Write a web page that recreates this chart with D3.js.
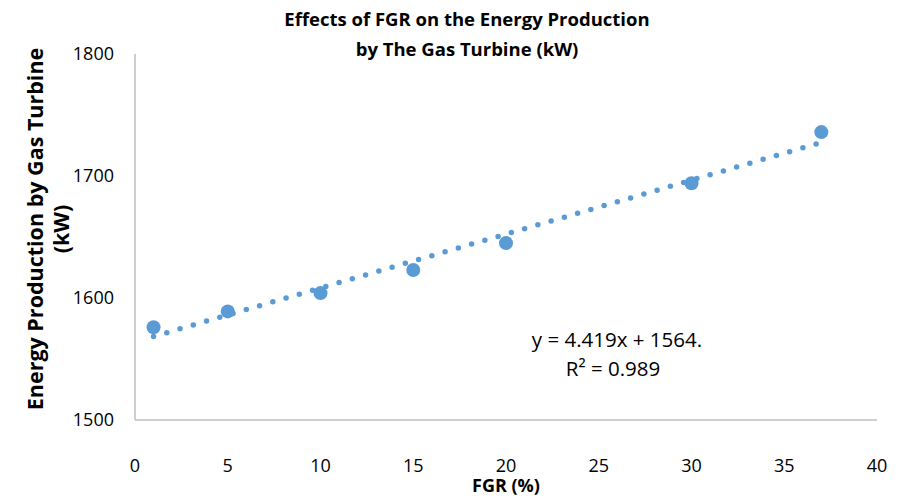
<!DOCTYPE html>
<html>
<head>
<meta charset="utf-8">
<script src="https://cdn.jsdelivr.net/npm/d3@7"></script>
<style>
  body { margin: 0; background: #fff; }
  svg text { font-family: 'Open Sans', 'DejaVu Sans', sans-serif; fill: #000; }
</style>
</head>
<body>
<div id="chart"></div>
<script>
// data
const fgr = [1, 5, 10, 15, 20, 30, 37];
const energy = [1576, 1589, 1604, 1623, 1645, 1694, 1736];
const xTicks = [0, 5, 10, 15, 20, 25, 30, 35, 40];
const yTicks = [1500, 1600, 1700, 1800];
const trend = { slope: 4.419, intercept: 1564 };
const trendRange = [1, 37];
const titleLines = ['Effects of FGR on the Energy Production', 'by The Gas Turbine (kW)'];
const yTitleLines = ['Energy Production by Gas Turbine', '(kW)'];
const eqLines = ['y = 4.419x + 1564.', 'R² = 0.989'];

const width = 904;
const height = 499;
const blue = '#5b9bd5';

const svg = d3.select('#chart')
  .append('svg')
  .attr('width', width)
  .attr('height', height);

const x = d3.scaleLinear().domain([0, 40]).range([135, 877]);
const y = d3.scaleLinear().domain([1500, 1800]).range([420, 54]);

// axes (only the lines, no ticks)
svg.append('line')
  .attr('x1', x(0)).attr('x2', x(0))
  .attr('y1', y(1800)).attr('y2', y(1500))
  .attr('stroke', '#bfbfbf').attr('stroke-width', 1.5);

svg.append('line')
  .attr('x1', x(0)).attr('x2', x(40))
  .attr('y1', y(1500)).attr('y2', y(1500))
  .attr('stroke', '#bfbfbf').attr('stroke-width', 1.5);

svg.selectAll('.ytick')
  .data(yTicks)
  .enter()
  .append('text')
  .attr('class', 'ytick')
  .attr('x', 114)
  .attr('y', d => y(d))
  .attr('dy', '0.35em')
  .attr('text-anchor', 'end')
  .attr('font-size', 18)
  .text(d => d);

svg.selectAll('.xtick')
  .data(xTicks)
  .enter()
  .append('text')
  .attr('class', 'xtick')
  .attr('x', d => x(d))
  .attr('y', 472)
  .attr('text-anchor', 'middle')
  .attr('font-size', 18)
  .text(d => d);

// dotted linear trendline
const line = d3.line()
  .x(d => x(d))
  .y(d => y(trend.slope * d + trend.intercept));

svg.append('path')
  .datum(trendRange)
  .attr('d', line)
  .attr('fill', 'none')
  .attr('stroke', blue)
  .attr('stroke-width', 5.5)
  .attr('stroke-linecap', 'round')
  .attr('stroke-dasharray', '0 13.8');

// markers
svg.selectAll('.point')
  .data(fgr)
  .enter()
  .append('circle')
  .attr('class', 'point')
  .attr('cx', d => x(d))
  .attr('cy', (d, i) => y(energy[i]))
  .attr('r', 7)
  .attr('fill', blue);

// title
svg.selectAll('.title')
  .data(titleLines)
  .enter()
  .append('text')
  .attr('class', 'title')
  .attr('x', 467)
  .attr('y', (d, i) => 26 + i * 30)
  .attr('text-anchor', 'middle')
  .attr('font-size', 18.5)
  .attr('font-weight', 'bold')
  .text(d => d);

// y title
svg.selectAll('.ytitle')
  .data(yTitleLines)
  .enter()
  .append('text')
  .attr('class', 'ytitle')
  .attr('transform', (d, i) => `translate(${43 + i * 26},229) rotate(-90)`)
  .attr('text-anchor', 'middle')
  .attr('font-size', 21.5)
  .attr('font-weight', 'bold')
  .text(d => d);

// x title
svg.append('text')
  .attr('x', 506)
  .attr('y', 492)
  .attr('text-anchor', 'middle')
  .attr('font-size', 18)
  .attr('font-weight', 'bold')
  .text('FGR (%)');

// trendline label
svg.selectAll('.eq')
  .data(eqLines)
  .enter()
  .append('text')
  .attr('class', 'eq')
  .attr('x', (d, i) => (i ? 613 : 617))
  .attr('y', (d, i) => 347 + i * 29)
  .attr('text-anchor', 'middle')
  .attr('font-size', 20.5)
  .text(d => d);
</script>
</body>
</html>
